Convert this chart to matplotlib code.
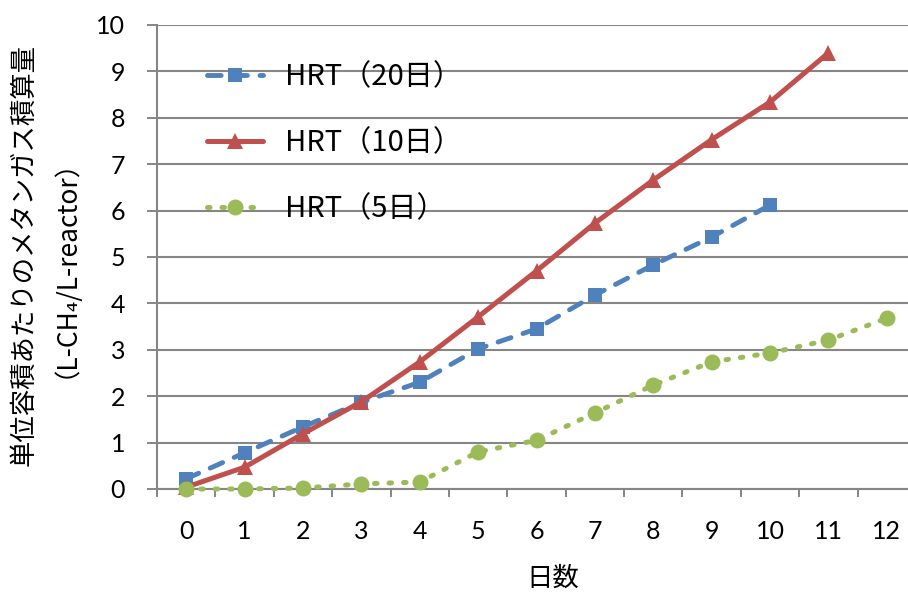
import numpy as np
import matplotlib
matplotlib.use("Agg")
import matplotlib.pyplot as plt

# Cumulative methane production per unit reactor volume (L-CH4/L-reactor)
days = list(range(0, 13))
hrt20 = [0.22, 0.78, 1.34, 1.87, 2.30, 3.02, 3.45, 4.18, 4.83, 5.43, 6.12]
hrt10 = [0.04, 0.47, 1.19, 1.88, 2.74, 3.71, 4.70, 5.73, 6.66, 7.53, 8.34, 9.40]
hrt5 = [0.00, 0.00, 0.02, 0.11, 0.15, 0.80, 1.05, 1.64, 2.24, 2.74, 2.93, 3.21, 3.68]

labels = ["HRT（20日）", "HRT（10日）", "HRT（5日）"]
x_tick_labels = [str(d) for d in days]
y_ticks = list(range(0, 11))

cjk = ["Noto Sans CJK JP", "DejaVu Sans"]
num_font = ["Lato", "DejaVu Sans"]

blue = "#4F81BD"
red = "#C0504D"
green = "#9BBB59"
grid_gray = "#868686"

fig = plt.figure(figsize=(9.08, 5.94), dpi=100)
ax = fig.add_axes([157 / 908, 105 / 594, (916 - 157) / 908, 464 / 594])

ax.plot(np.arange(len(hrt20)), hrt20, color=blue, lw=3.5,
        linestyle=(0, (2.8, 2.6)), dash_capstyle="round",
        marker="s", markersize=10, markeredgewidth=0,
        label=labels[0], clip_on=False, zorder=3)
ax.plot(np.arange(len(hrt10)), hrt10, color=red, lw=3.6,
        linestyle="-", solid_capstyle="round",
        marker="^", markersize=12, markeredgewidth=0,
        label=labels[1], clip_on=False, zorder=4)
ax.plot(np.arange(len(hrt5)), hrt5, color=green, lw=3.6,
        linestyle=(0, (0.5, 2.4)), dash_capstyle="round",
        marker="o", markersize=11.5, markeredgewidth=0,
        label=labels[2], clip_on=False, zorder=5)

ax.set_xlim(-0.5, len(days) - 0.5)
ax.set_ylim(0, 10)

# y axis: gridlines and outward ticks
ax.set_yticks(y_ticks)
ax.set_yticklabels([str(v) for v in y_ticks], fontfamily=num_font, fontsize=18)
ax.yaxis.grid(True, color=grid_gray, lw=1.5)
ax.tick_params(axis="y", direction="out", length=7, width=1.4,
               color=grid_gray, pad=16)

# x axis: labels centred on categories, tick marks on category boundaries
ax.set_xticks(np.arange(len(days)))
ax.set_xticklabels(x_tick_labels, fontfamily=num_font, fontsize=18)
ax.set_xticks(np.arange(len(days) + 1) - 0.5, minor=True)
ax.tick_params(axis="x", which="major", length=0, pad=22)
ax.tick_params(axis="x", which="minor", direction="out", length=6,
               width=1.4, color=grid_gray)

for side in ("top", "right"):
    ax.spines[side].set_visible(False)
for side in ("left", "bottom"):
    ax.spines[side].set_color(grid_gray)
    ax.spines[side].set_linewidth(1.5)
ax.set_axisbelow(True)

leg = ax.legend(loc="upper left", bbox_to_anchor=(0.05, 0.946),
                frameon=False, prop={"family": cjk, "size": 21},
                handlelength=1.95, handletextpad=0.75, labelspacing=1.25,
                borderaxespad=0)

# two-line vertical axis title, centred as one block
fig.text(38 / 908, 1 - 255 / 594,
         "単位容積あたりのメタンガス積算量\n（L-CH₄/L-reactor）",
         rotation=90, ha="center", va="center", multialignment="center",
         linespacing=1.05, fontfamily=cjk, fontsize=19)
fig.text(553 / 908, 1 - 578 / 594, "日数", ha="center", va="center",
         fontfamily=cjk, fontsize=19)

fig.savefig("out.png", dpi=100)
